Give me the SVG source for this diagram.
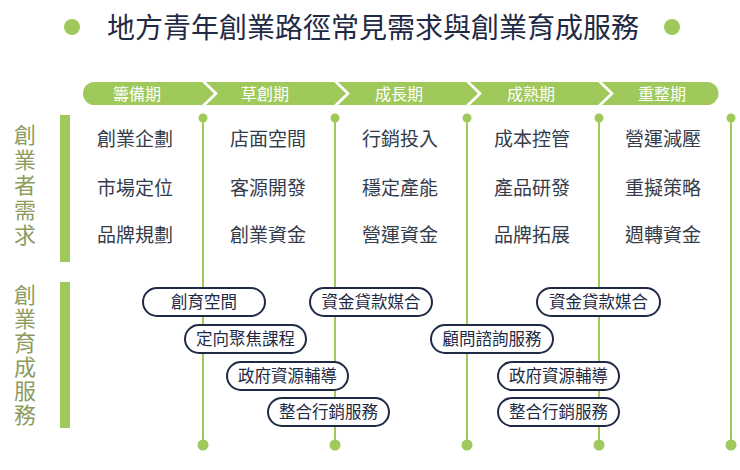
<svg xmlns="http://www.w3.org/2000/svg" width="740" height="470" viewBox="0 0 740 470">
<style>
text{font-family:"Noto Sans CJK TC","Noto Sans CJK SC",sans-serif;}
.title{font-size:28px;fill:#1f2a44;text-anchor:middle;}
.phase{fill:#9fc95b;}
.ptxt{font-size:16px;fill:#ffffff;text-anchor:middle;}
.side{font-size:22px;fill:#8d9c5e;writing-mode:vertical-rl;text-orientation:upright;}
.bar{fill:#9fc95b;}
.need{font-size:19px;fill:#343c4b;text-anchor:middle;}
.vline{stroke:#9fc95b;stroke-width:2;fill:none;}
.dot{fill:#9fc95b;}
.pill rect{fill:#ffffff;stroke:#1f2a44;stroke-width:2;}
.pill text{font-size:16.5px;fill:#1f2a44;text-anchor:middle;}
</style>
<rect width="740" height="470" fill="#ffffff"/>
<g id="title">
<circle class="dot" cx="72" cy="27" r="8"/>
<text class="title" x="373" y="38">地方青年創業路徑常見需求與創業育成服務</text>
<circle class="dot" cx="672" cy="27" r="8"/>
</g>
<g id="phases">
<g id="phase1"><path class="phase" d="M94.5,82 H202 L214,93.5 L202,105 H94.5 A11.5,11.5 0 0 1 94.5,82 Z"/><text class="ptxt" x="137" y="99.5">籌備期</text></g>
<g id="phase2"><path class="phase" d="M206,82 H334 L346,93.5 L334,105 H206 L218,93.5 Z"/><text class="ptxt" x="265" y="99.5">草創期</text></g>
<g id="phase3"><path class="phase" d="M338,82 H466 L478,93.5 L466,105 H338 L350,93.5 Z"/><text class="ptxt" x="399" y="99.5">成長期</text></g>
<g id="phase4"><path class="phase" d="M470,82 H598 L610,93.5 L598,105 H470 L482,93.5 Z"/><text class="ptxt" x="531" y="99.5">成熟期</text></g>
<g id="phase5"><path class="phase" d="M602,82 H707 A11.5,11.5 0 0 1 707,105 H602 L614,93.5 Z"/><text class="ptxt" x="662" y="99.5">重整期</text></g>
</g>
<g id="side-needs">
<rect class="bar" x="60" y="115" width="10" height="147"/>
<text class="side" x="25" y="124" letter-spacing="3">創業者需求</text>
</g>
<g id="side-services">
<rect class="bar" x="60" y="282" width="10" height="146"/>
<text class="side" x="25" y="284" letter-spacing="2">創業育成服務</text>
</g>
<g id="connectors">
<line class="vline" x1="203" y1="118" x2="203" y2="445"/>
<line class="vline" x1="335" y1="118" x2="335" y2="445"/>
<line class="vline" x1="467" y1="118" x2="467" y2="445"/>
<line class="vline" x1="599" y1="118" x2="599" y2="445"/>
<line class="vline" x1="731" y1="118" x2="731" y2="445"/>
<circle class="dot" cx="203" cy="118" r="4.5"/>
<circle class="dot" cx="335" cy="118" r="4.5"/>
<circle class="dot" cx="467" cy="118" r="4.5"/>
<circle class="dot" cx="599" cy="118" r="4.5"/>
<circle class="dot" cx="731" cy="118" r="4.5"/>
<circle class="dot" cx="203" cy="445" r="5.5"/>
<circle class="dot" cx="335" cy="445" r="5.5"/>
<circle class="dot" cx="467" cy="445" r="5.5"/>
<circle class="dot" cx="599" cy="445" r="5.5"/>
<circle class="dot" cx="731" cy="445" r="5.5"/>
</g>
<g id="needs">
<g id="needs-col1">
<text class="need" x="135" y="146">創業企劃</text>
<text class="need" x="135" y="195">市場定位</text>
<text class="need" x="135" y="242">品牌規劃</text>
</g>
<g id="needs-col2">
<text class="need" x="268" y="146">店面空間</text>
<text class="need" x="268" y="195">客源開發</text>
<text class="need" x="268" y="242">創業資金</text>
</g>
<g id="needs-col3">
<text class="need" x="400" y="146">行銷投入</text>
<text class="need" x="400" y="195">穩定產能</text>
<text class="need" x="400" y="242">營運資金</text>
</g>
<g id="needs-col4">
<text class="need" x="532" y="146">成本控管</text>
<text class="need" x="532" y="195">產品研發</text>
<text class="need" x="532" y="242">品牌拓展</text>
</g>
<g id="needs-col5">
<text class="need" x="663" y="146">營運減壓</text>
<text class="need" x="663" y="195">重擬策略</text>
<text class="need" x="663" y="242">週轉資金</text>
</g>
</g>
<g id="services">
<g id="svc1" class="pill"><rect x="143" y="288" width="122" height="28" rx="14"/><text x="204" y="308">創育空間</text></g>
<g id="svc2" class="pill"><rect x="310" y="288" width="122" height="28" rx="14"/><text x="371" y="308">資金貸款媒合</text></g>
<g id="svc3" class="pill"><rect x="185" y="325" width="121" height="28" rx="14"/><text x="245.5" y="345">定向聚焦課程</text></g>
<g id="svc4" class="pill"><rect x="227" y="362" width="121" height="28" rx="14"/><text x="287.5" y="382">政府資源輔導</text></g>
<g id="svc5" class="pill"><rect x="268" y="398" width="121" height="28" rx="14"/><text x="328.5" y="418">整合行銷服務</text></g>
<g id="svc6" class="pill"><rect x="537" y="288" width="123" height="28" rx="14"/><text x="598.5" y="308">資金貸款媒合</text></g>
<g id="svc7" class="pill"><rect x="431" y="325" width="122" height="28" rx="14"/><text x="492" y="345">顧問諮詢服務</text></g>
<g id="svc8" class="pill"><rect x="498" y="362" width="121" height="28" rx="14"/><text x="558.5" y="382">政府資源輔導</text></g>
<g id="svc9" class="pill"><rect x="498" y="398" width="121" height="28" rx="14"/><text x="558.5" y="418">整合行銷服務</text></g>
</g>
</svg>
